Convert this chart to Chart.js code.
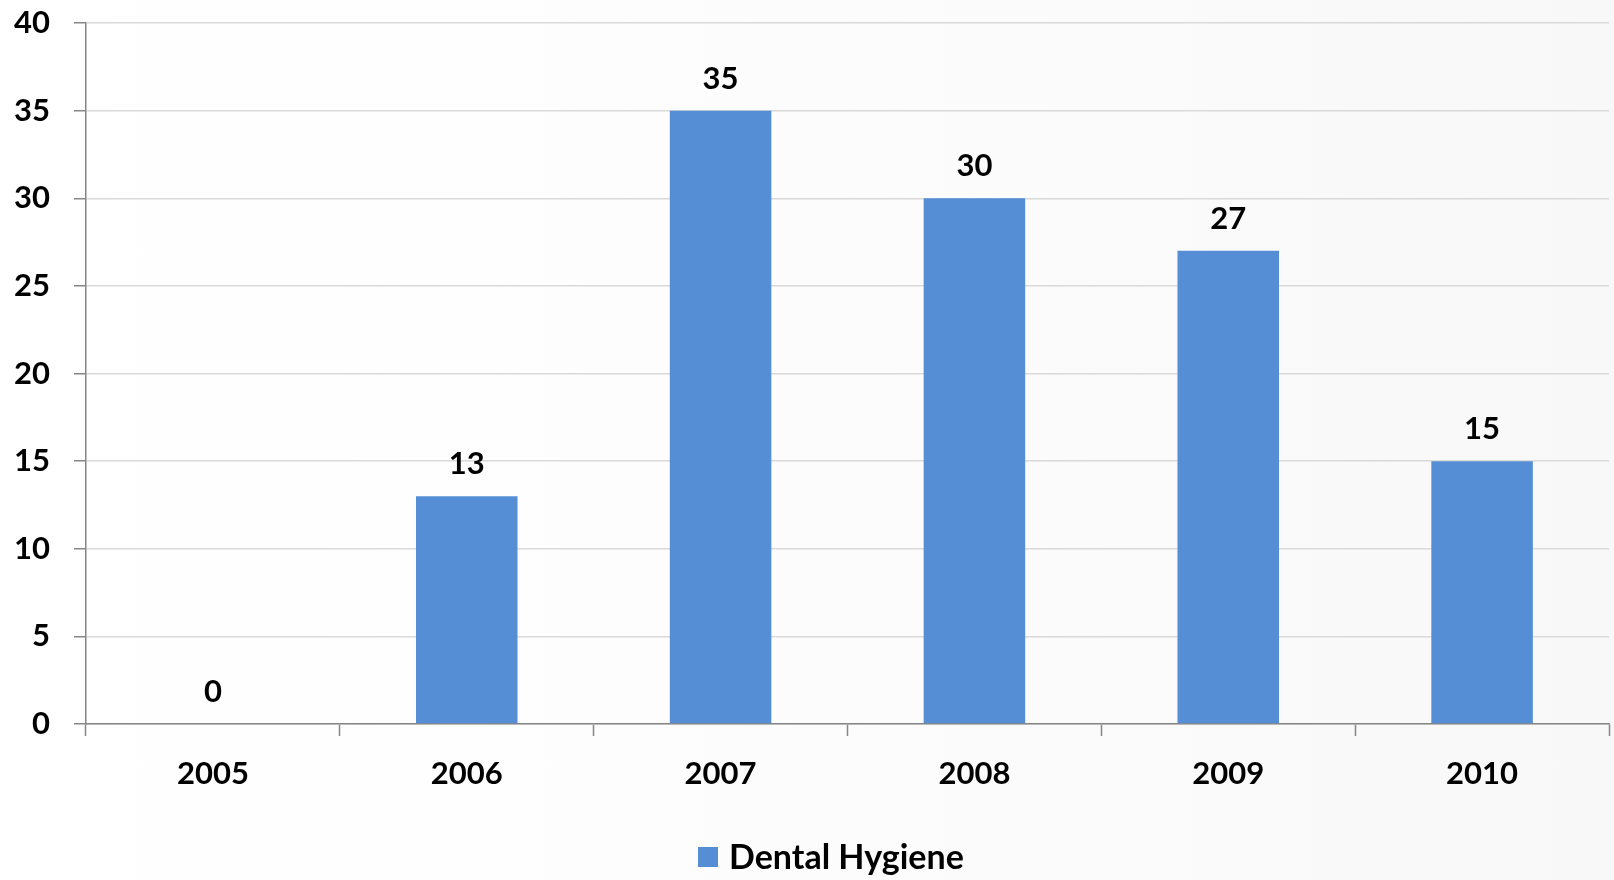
<!DOCTYPE html>
<html>
<head>
<meta charset="utf-8">
<script src="https://cdn.jsdelivr.net/npm/chart.js@4.4.0/dist/chart.umd.min.js"></script>
<style>
  html, body { margin: 0; padding: 0; }
  body { width: 1614px; height: 880px; overflow: hidden; background: linear-gradient(to right, #ffffff 0%, #fdfdfd 40%, #f8f8f8 100%); }
  #c { display: block; }
</style>
</head>
<body>
<canvas id="c" width="1614" height="880"></canvas>
<script>
const categories = ['2005', '2006', '2007', '2008', '2009', '2010'];
const seriesName = 'Dental Hygiene';
const seriesValues = [0, 13, 35, 30, 27, 15];
const yMin = 0;
const yMax = 40;
const yStep = 5;

const FONT = 'Lato, "Open Sans", sans-serif';
const BAR = '#558ed5';
const AXIS = '#868686';
const GRID = '#d9d9d9';

const dataLabels = {
  id: 'dataLabels',
  afterDatasetsDraw(chart) {
    const ctx = chart.ctx;
    ctx.save();
    ctx.font = 'bold 31px ' + FONT;
    ctx.fillStyle = '#000';
    ctx.textAlign = 'center';
    ctx.textBaseline = 'middle';
    chart.getDatasetMeta(0).data.forEach((el, i) => {
      ctx.fillText(String(seriesValues[i]), el.x, el.y - 32);
    });
    ctx.restore();
  }
};

// Legend drawn below the x axis (offset to the right as in the reference)
const customLegend = {
  id: 'customLegend',
  afterDraw(chart) {
    const ctx = chart.ctx;
    const ds = chart.data.datasets[0];
    ctx.save();
    ctx.fillStyle = ds.backgroundColor;
    ctx.fillRect(698, 847, 20, 20);
    ctx.font = 'bold 34px ' + FONT;
    ctx.fillStyle = '#000';
    ctx.textAlign = 'left';
    ctx.textBaseline = 'middle';
    ctx.fillText(ds.label, 729, 858);
    ctx.restore();
  }
};

new Chart(document.getElementById('c'), {
  type: 'bar',
  data: {
    labels: categories,
    datasets: [{
      label: seriesName,
      data: seriesValues,
      backgroundColor: BAR,
      borderWidth: 0,
      categoryPercentage: 1.0,
      barPercentage: 0.4
    }]
  },
  options: {
    responsive: false,
    animation: false,
    devicePixelRatio: 1,
    layout: { padding: { top: 23, right: 5, bottom: 0, left: 0 } },
    plugins: {
      tooltip: { enabled: false },
      legend: { display: false }
    },
    scales: {
      x: {
        grid: {
          display: true,
          drawOnChartArea: false,
          drawTicks: true,
          tickLength: 12,
          tickColor: AXIS,
          tickWidth: 1.5,
          offset: true
        },
        border: { display: true, color: AXIS, width: 1.5 },
        ticks: {
          color: '#000',
          font: { family: FONT, size: 31, weight: 'bold' },
          padding: 19
        },
        afterFit(scale) { scale.height = 156; }
      },
      y: {
        min: yMin,
        max: yMax,
        ticks: {
          stepSize: yStep,
          color: '#000',
          font: { family: FONT, size: 31, weight: 'bold' },
          padding: 24
        },
        grid: {
          color: GRID,
          lineWidth: 1.5,
          tickLength: 12,
          tickColor: AXIS,
          tickWidth: 1.5
        },
        border: { display: true, color: AXIS, width: 1.5 },
        afterFit(scale) {
          scale.width = 86;
          scale.paddingTop = 0;
          scale.paddingBottom = 0;
        }
      }
    }
  },
  plugins: [dataLabels, customLegend]
});
</script>
</body>
</html>
